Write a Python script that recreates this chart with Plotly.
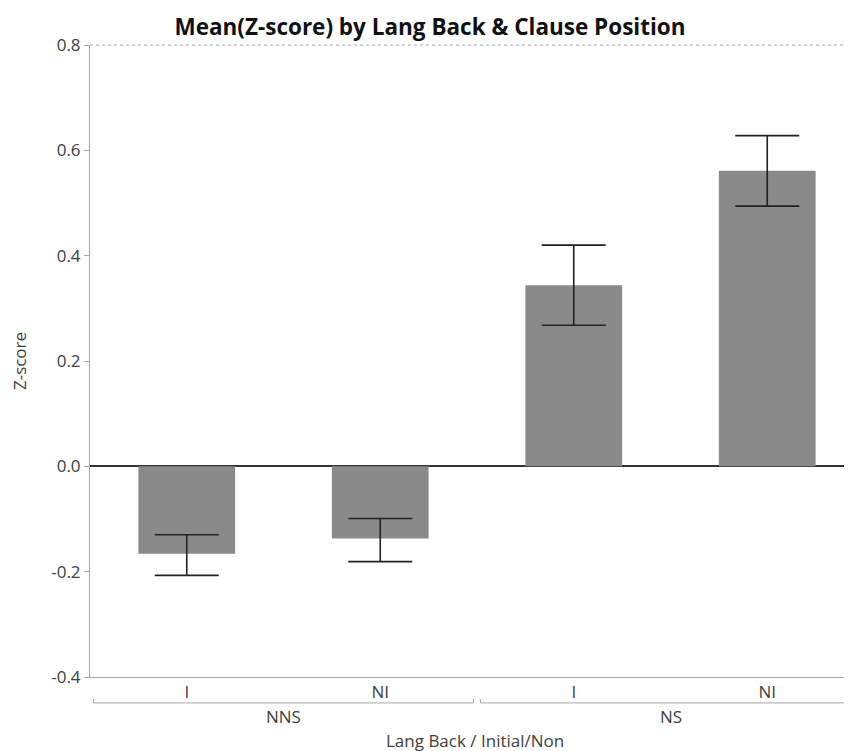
import plotly.graph_objects as go

# Data
groups = ["NNS", "NNS", "NS", "NS"]
positions = ["I", "NI", "I", "NI"]
means = [-0.166, -0.137, 0.344, 0.561]
err_upper = [-0.130, -0.099, 0.420, 0.628]
err_lower = [-0.207, -0.181, 0.268, 0.494]
yticks = [-0.4, -0.2, 0.0, 0.2, 0.4, 0.6, 0.8]

xs = list(range(len(means)))
plus = [u - m for u, m in zip(err_upper, means)]
minus = [m - l for m, l in zip(means, err_lower)]
ytick_text = [f"{v:.1f}" for v in yticks]  # plain hyphen minus

FONT = "Open Sans, Noto Sans, sans-serif"
AXC = "#a6a6a6"
TXT = "#404040"
FS = 17

# page has an 8px body margin; compensate so the plot sits where the reference's does
W, H = 844, 743
ML, MT, MB = 82, 37, 74

fig = go.Figure()
fig.add_trace(go.Bar(
    x=xs, y=means, width=0.5,
    marker=dict(color="#8a8a8a", line=dict(width=0)),
    error_y=dict(type="data", symmetric=False, array=plus, arrayminus=minus,
                 color="#222222", thickness=1.6, width=32),
    showlegend=False,
))

# group brackets and labels
uniq = []
for g in groups:
    if g not in uniq:
        uniq.append(g)
shapes = []
annotations = []
gap = 0.018
for g in uniq:
    idx = [i for i, gg in enumerate(groups) if gg == g]
    x0 = idx[0] - 0.5 + gap
    x1 = idx[-1] + 0.5 - gap
    yb = -0.041
    shapes.append(dict(type="line", xref="x", yref="paper", x0=x0, x1=x1, y0=yb, y1=yb,
                       line=dict(color=AXC, width=1)))
    for xx in (x0, x1):
        shapes.append(dict(type="line", xref="x", yref="paper", x0=xx, x1=xx, y0=yb, y1=yb + 0.006,
                           line=dict(color=AXC, width=1)))
    annotations.append(dict(x=sum(idx) / len(idx), y=-0.062, xref="x", yref="paper",
                            text=g, showarrow=False, yanchor="middle",
                            font=dict(family=FONT, size=FS, color=TXT)))

# top border (dotted)
shapes.append(dict(type="line", xref="paper", yref="paper", x0=0, x1=1, y0=1, y1=1,
                   line=dict(color=AXC, width=1, dash="dot")))

annotations.append(dict(x=0.505, y=-0.0997, xref="paper", yref="paper",
                        text="Lang Back / Initial/Non", showarrow=False, yanchor="middle",
                        font=dict(family=FONT, size=FS, color=TXT)))

fig.update_layout(
    width=W, height=H,
    margin=dict(l=ML, r=0, t=MT, b=MB),
    paper_bgcolor="white", plot_bgcolor="white",
    title=dict(text="<b>Mean(Z-score) by Lang Back & Clause Position</b>",
               x=0.5, xanchor="center", y=1 - 19 / H, yanchor="middle",
               font=dict(family=FONT, size=22.5, color="#111111")),
    shapes=shapes, annotations=annotations,
)
fig.update_xaxes(
    range=[-0.5, 3.438], tickvals=xs, ticktext=positions,
    showline=True, linecolor=AXC, linewidth=1, ticks="", showgrid=False, zeroline=False,
    tickfont=dict(family=FONT, size=FS, color=TXT),
)
fig.update_yaxes(
    range=[-0.4, 0.8], tickvals=yticks, ticktext=ytick_text,
    showline=True, linecolor=AXC, linewidth=1, ticks="outside", ticklen=5, tickcolor=AXC,
    showgrid=False, zeroline=True, zerolinecolor="#333333", zerolinewidth=2,
    tickfont=dict(family=FONT, size=FS, color=TXT),
    title=dict(text="Z-score", font=dict(family=FONT, size=FS, color=TXT), standoff=21),
    layer="above traces",
)

fig.write_html("out.html")
